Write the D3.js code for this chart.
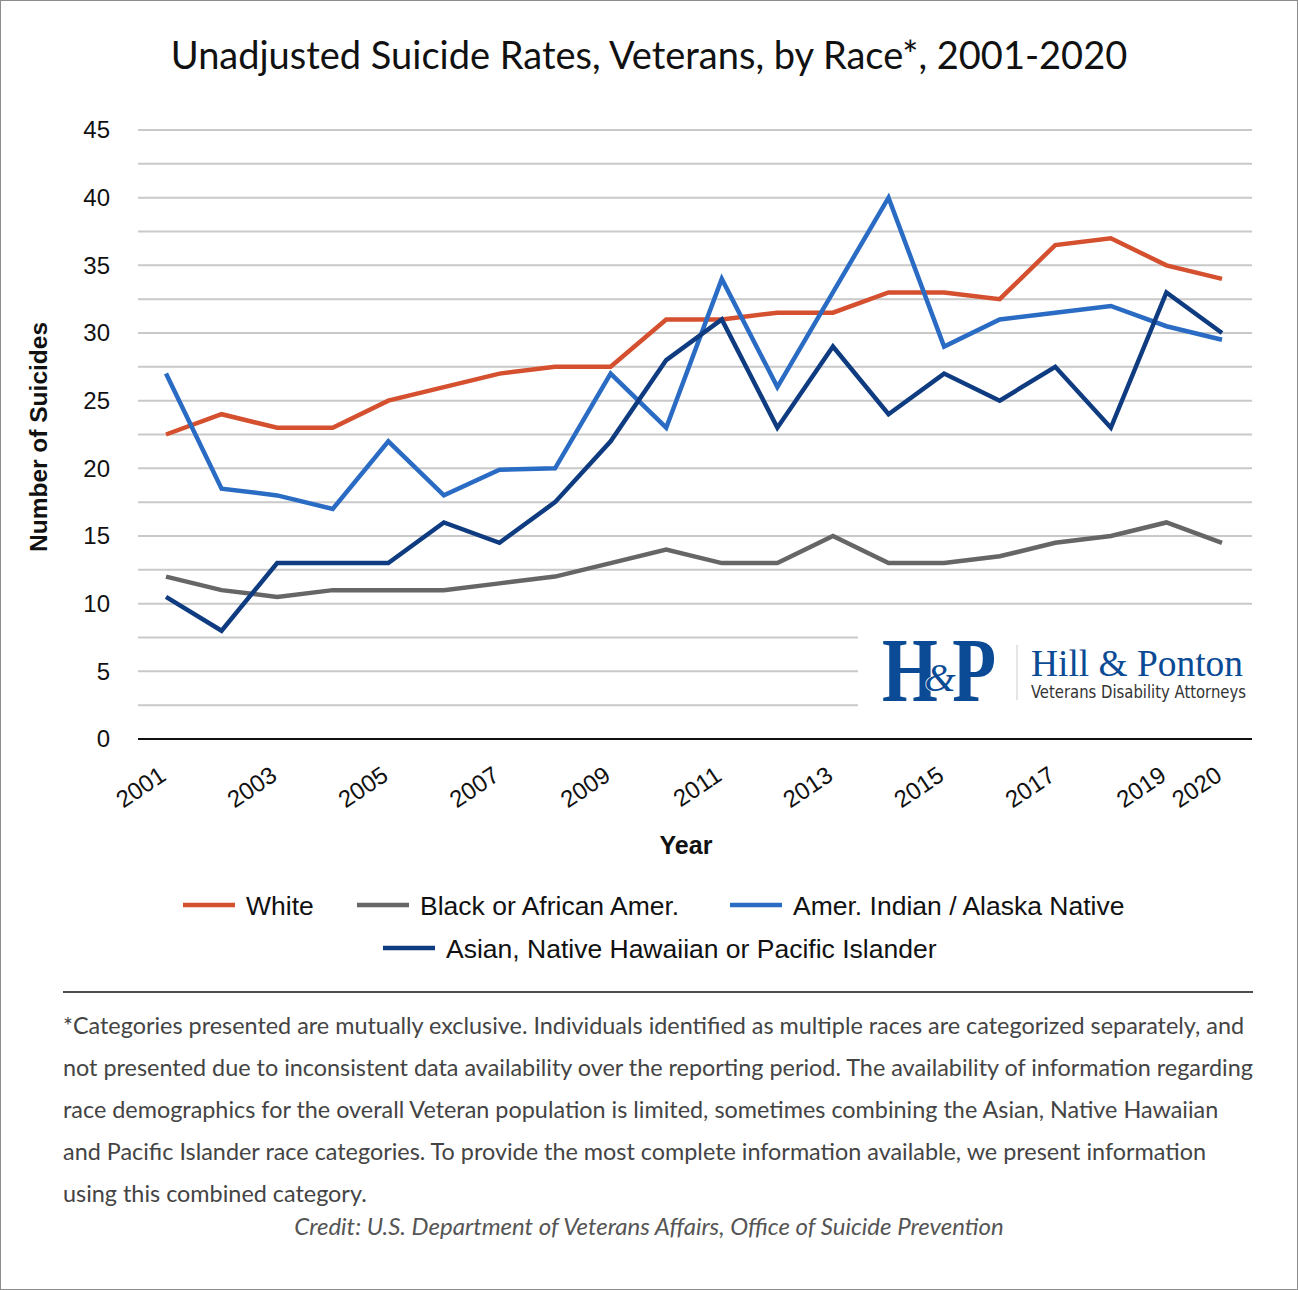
<!DOCTYPE html>
<html>
<head>
<meta charset="utf-8">
<script src="https://cdn.jsdelivr.net/npm/d3@7"></script>
<style>
body { margin: 0; background: #fff; }
svg { display: block; }
</style>
</head>
<body>
<div id="chart"></div>
<script>
// data
var years = d3.range(2001, 2021);
var white = [22.5, 24, 23, 23, 25, 26, 27, 27.5, 27.5, 31, 31, 31.5, 31.5, 33, 33, 32.5, 36.5, 37, 35, 34];
var black = [12, 11, 10.5, 11, 11, 11, 11.5, 12, 13, 14, 13, 13, 15, 13, 13, 13.5, 14.5, 15, 16, 14.5];
var aian = [27, 18.5, 18, 17, 22, 18, 19.9, 20, 27, 23, 34, 26, 33, 40, 29, 31, 31.5, 32, 30.5, 29.5];
var asian = [10.5, 8, 13, 13, 13, 16, 14.5, 17.5, 22, 28, 31, 23, 29, 24, 27, 25, 27.5, 23, 33, 30];
var yTicks = [0, 5, 10, 15, 20, 25, 30, 35, 40, 45];
var xTicks = [2001, 2003, 2005, 2007, 2009, 2011, 2013, 2015, 2017, 2019, 2020];
var seriesNames = ["White", "Black or African Amer.", "Amer. Indian / Alaska Native", "Asian, Native Hawaiian or Pacific Islander"];
var footnote = [
  "*Categories presented are mutually exclusive. Individuals identified as multiple races are categorized separately, and",
  "not presented due to inconsistent data availability over the reporting period. The availability of information regarding",
  "race demographics for the overall Veteran population is limited, sometimes combining the Asian, Native Hawaiian",
  "and Pacific Islander race categories. To provide the most complete information available, we present information",
  "using this combined category."
];

var W = 1298, H = 1290;
var colors = ["#d4502f", "#666666", "#2a6bc4", "#0f3c80"];
var series = [white, black, aian, asian];
var arial = "'Liberation Sans', Arial, sans-serif";
var body = "Lato, 'Open Sans', sans-serif";

var svg = d3.select("#chart").append("svg")
  .attr("width", W)
  .attr("height", H);

svg.append("rect")
  .attr("x", 0.5).attr("y", 0.5)
  .attr("width", W - 1).attr("height", H - 1)
  .attr("fill", "#fff")
  .attr("stroke", "#8c8c8c");

svg.append("text")
  .attr("x", 649)
  .attr("y", 69)
  .attr("text-anchor", "middle")
  .style("font-family", body)
  .style("font-size", "38px")
  .style("fill", "#111")
  .text("Unadjusted Suicide Rates, Veterans, by Race*, 2001-2020");

var x = d3.scaleLinear().domain([2001, 2020]).range([166, 1222]);
var y = d3.scaleLinear().domain([0, 45]).range([739, 130]);

// gridlines every 2.5
var grid = d3.range(2.5, 45.1, 2.5);
svg.append("g").selectAll("line")
  .data(grid)
  .enter().append("line")
  .attr("x1", 138)
  .attr("x2", 1252)
  .attr("y1", function(d){ return y(d); })
  .attr("y2", function(d){ return y(d); })
  .attr("stroke", "#c9c9c9")
  .attr("stroke-width", 2);

// y axis labels
var yAxis = svg.append("g")
  .attr("transform", "translate(138,0)")
  .call(d3.axisLeft(y).tickValues(yTicks).tickSize(0).tickPadding(28));
yAxis.select(".domain").remove();
yAxis.selectAll("text")
  .style("font-family", arial)
  .style("font-size", "24px")
  .style("fill", "#111");

svg.append("text")
  .attr("transform", "translate(47,437) rotate(-90)")
  .attr("text-anchor", "middle")
  .style("font-family", arial)
  .style("font-size", "24.5px")
  .style("font-weight", "bold")
  .style("fill", "#111")
  .text("Number of Suicides");

// lines
var line = d3.line()
  .x(function(d, i){ return x(years[i]); })
  .y(function(d){ return y(d); });

svg.append("g").selectAll("path")
  .data(series)
  .enter().append("path")
  .attr("d", line)
  .attr("fill", "none")
  .attr("stroke", function(d, i){ return colors[i]; })
  .attr("stroke-width", 4.5)
  .attr("stroke-linejoin", "miter");

// logo box covering lower right grid
svg.append("rect")
  .attr("x", 858).attr("y", 615)
  .attr("width", 396).attr("height", 110)
  .attr("fill", "#fff");

var logo = svg.append("g");
logo.append("text")
  .attr("x", 882).attr("y", 701)
  .style("font-family", "'Liberation Serif', 'DejaVu Serif', serif")
  .style("font-size", "92px")
  .style("font-weight", "bold")
  .style("fill", "#0b4a94")
  .attr("textLength", 114)
  .attr("lengthAdjust", "spacingAndGlyphs")
  .text("H\u2009P");
logo.append("text")
  .attr("x", 940).attr("y", 691)
  .attr("text-anchor", "middle")
  .style("font-family", "'Liberation Serif', 'DejaVu Serif', serif")
  .style("font-size", "40px")
  .style("font-style", "italic")
  .style("fill", "#0b4a94")
  .style("stroke", "#fff")
  .style("stroke-width", 1.5)
  .style("paint-order", "stroke")
  .text("&");
logo.append("line")
  .attr("x1", 1017).attr("x2", 1017)
  .attr("y1", 645).attr("y2", 700)
  .attr("stroke", "#ddd")
  .attr("stroke-width", 1.5);
logo.append("text")
  .attr("x", 1031).attr("y", 676)
  .style("font-family", "'Liberation Serif', 'DejaVu Serif', serif")
  .style("font-size", "38px")
  .style("fill", "#0b4a94")
  .attr("textLength", 212)
  .attr("lengthAdjust", "spacingAndGlyphs")
  .text("Hill & Ponton");
logo.append("text")
  .attr("x", 1031).attr("y", 698)
  .style("font-family", "'DejaVu Sans Condensed', 'DejaVu Sans', sans-serif")
  .style("font-size", "17px")
  .style("fill", "#333")
  .attr("textLength", 215)
  .attr("lengthAdjust", "spacingAndGlyphs")
  .text("Veterans Disability Attorneys");

// x axis baseline
svg.append("line")
  .attr("x1", 138).attr("x2", 1252)
  .attr("y1", y(0)).attr("y2", y(0))
  .attr("stroke", "#111")
  .attr("stroke-width", 2);

var xAxis = svg.append("g")
  .attr("transform", "translate(0," + y(0) + ")")
  .call(d3.axisBottom(x).tickValues(xTicks).tickFormat(d3.format("d")).tickSize(0));
xAxis.select(".domain").remove();
xAxis.selectAll("text")
  .style("font-family", arial)
  .style("font-size", "24px")
  .style("fill", "#111")
  .attr("text-anchor", "end")
  .attr("dy", null)
  .attr("y", 0)
  .attr("transform", "translate(1,40) rotate(-34)");

svg.append("text")
  .attr("x", 686).attr("y", 854)
  .attr("text-anchor", "middle")
  .style("font-family", arial)
  .style("font-size", "25px")
  .style("font-weight", "bold")
  .style("fill", "#111")
  .text("Year");

// legend
var legendPos = [[183, 905], [357, 905], [730, 905], [383, 948]];
var legend = svg.append("g").selectAll("g")
  .data(seriesNames)
  .enter().append("g")
  .attr("transform", function(d, i){ return "translate(" + legendPos[i][0] + "," + legendPos[i][1] + ")"; });
legend.append("line")
  .attr("x1", 0).attr("x2", 52)
  .attr("y1", 0).attr("y2", 0)
  .attr("stroke", function(d, i){ return colors[i]; })
  .attr("stroke-width", 4.5);
legend.append("text")
  .attr("x", 63).attr("y", 9.5)
  .style("font-family", arial)
  .style("font-size", "26.5px")
  .style("fill", "#111")
  .text(function(d){ return d; });

// separator
svg.append("line")
  .attr("x1", 63).attr("x2", 1253)
  .attr("y1", 992).attr("y2", 992)
  .attr("stroke", "#111")
  .attr("stroke-width", 1.5);

svg.append("g").selectAll("text")
  .data(footnote)
  .enter().append("text")
  .attr("x", 63)
  .attr("y", function(d, i){ return 1034 + i * 42; })
  .style("font-family", body)
  .style("font-size", "23.4px")
  .style("fill", "#444")
  .text(function(d){ return d; });

svg.append("text")
  .attr("x", 649).attr("y", 1235)
  .attr("text-anchor", "middle")
  .style("font-family", body)
  .style("font-size", "24px")
  .style("font-style", "italic")
  .style("fill", "#555")
  .text("Credit: U.S. Department of Veterans Affairs, Office of Suicide Prevention");
</script>
</body>
</html>
